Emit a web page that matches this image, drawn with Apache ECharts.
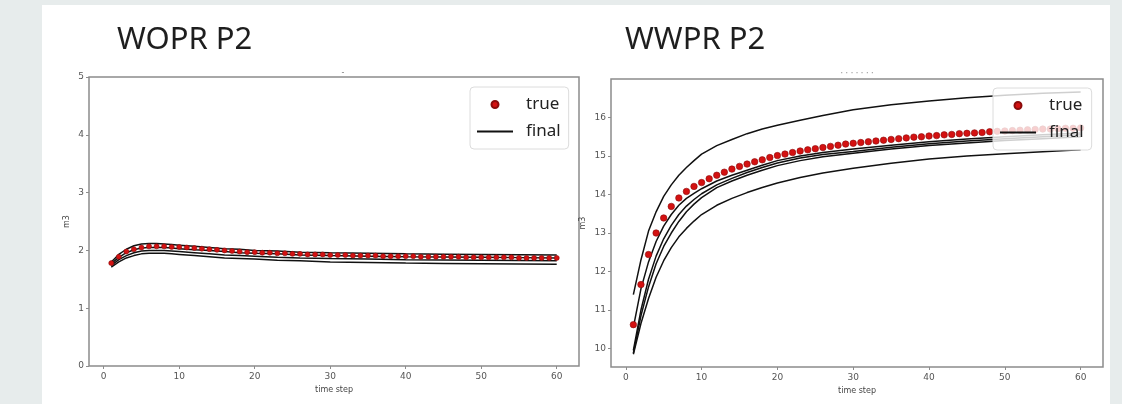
<!DOCTYPE html>
<html>
<head>
<meta charset="utf-8">
<script src="https://cdn.jsdelivr.net/npm/echarts@6/dist/echarts.min.js"></script>
<style>
  html, body { margin: 0; padding: 0; background: #e7ecec; }
  #chart { width: 1122px; height: 404px; }
</style>
</head>
<body>
<div id="chart"></div>
<script>
// time steps of the "true" dots
const steps = [1, 2, 3, 4, 5, 6, 7, 8, 9, 10, 11, 12, 13, 14, 15, 16, 17, 18, 19, 20,
  21, 22, 23, 24, 25, 26, 27, 28, 29, 30, 31, 32, 33, 34, 35, 36, 37, 38, 39, 40,
  41, 42, 43, 44, 45, 46, 47, 48, 49, 50, 51, 52, 53, 54, 55, 56, 57, 58, 59, 60]
const lineSteps = [1, 2, 3, 4, 5, 6, 7, 8, 9, 10, 12, 14, 16, 18, 20, 23, 26, 30, 35, 40, 45, 50, 55, 60]
const xTicks = [0, 10, 20, 30, 40, 50, 60]

// WOPR P2
const woprTrue = [1.78, 1.89, 1.98, 2.02, 2.05, 2.07, 2.07, 2.07, 2.06, 2.06,
  2.05, 2.04, 2.03, 2.02, 2.01, 2.00, 1.99, 1.98, 1.97, 1.97,
  1.96, 1.96, 1.95, 1.95, 1.94, 1.94, 1.93, 1.93, 1.93, 1.92,
  1.92, 1.92, 1.91, 1.91, 1.91, 1.91, 1.90, 1.90, 1.90, 1.90,
  1.90, 1.89, 1.89, 1.89, 1.89, 1.89, 1.89, 1.88, 1.88, 1.88,
  1.88, 1.88, 1.88, 1.88, 1.87, 1.87, 1.87, 1.87, 1.87, 1.87]
const woprFinal1 = [1.80, 1.93, 2.02, 2.08, 2.11, 2.12, 2.12, 2.11, 2.10, 2.09, 2.07, 2.05, 2.03, 2.02, 2.00, 1.99, 1.97, 1.96, 1.95, 1.94, 1.935, 1.93, 1.925, 1.92]
const woprFinal2 = [1.77, 1.88, 1.96, 2.01, 2.04, 2.05, 2.05, 2.05, 2.04, 2.03, 2.01, 2.00, 1.98, 1.96, 1.95, 1.94, 1.92, 1.91, 1.90, 1.89, 1.885, 1.88, 1.875, 1.87]
const woprFinal3 = [1.74, 1.84, 1.91, 1.96, 1.99, 2.00, 2.00, 2.00, 1.99, 1.98, 1.96, 1.94, 1.92, 1.91, 1.90, 1.88, 1.87, 1.86, 1.85, 1.84, 1.835, 1.83, 1.825, 1.82]
const woprFinal4 = [1.71, 1.80, 1.87, 1.91, 1.94, 1.95, 1.95, 1.95, 1.94, 1.93, 1.91, 1.89, 1.87, 1.86, 1.85, 1.83, 1.82, 1.80, 1.79, 1.78, 1.775, 1.77, 1.765, 1.76]
const woprYTicks = [0, 1, 2, 3, 4, 5]

// WWPR P2
const wwprTrue = [10.62, 11.66, 12.44, 13.00, 13.39, 13.69, 13.91, 14.08, 14.21, 14.31,
  14.41, 14.50, 14.58, 14.66, 14.73, 14.79, 14.85, 14.90, 14.96, 15.01,
  15.05, 15.09, 15.13, 15.16, 15.19, 15.22, 15.25, 15.28, 15.31, 15.33,
  15.35, 15.37, 15.39, 15.41, 15.43, 15.45, 15.47, 15.49, 15.50, 15.52,
  15.53, 15.55, 15.56, 15.58, 15.59, 15.60, 15.61, 15.63, 15.64, 15.65,
  15.66, 15.67, 15.68, 15.69, 15.70, 15.70, 15.71, 15.72, 15.72, 15.73]
const wwprFinal1 = [11.40, 12.30, 13.05, 13.55, 13.95, 14.25, 14.50, 14.70, 14.88, 15.05, 15.27, 15.43, 15.58, 15.70, 15.80, 15.93, 16.05, 16.20, 16.33, 16.43, 16.51, 16.58, 16.63, 16.66]
const wwprFinal2 = [10.55, 11.55, 12.25, 12.78, 13.18, 13.48, 13.72, 13.90, 14.03, 14.15, 14.35, 14.50, 14.63, 14.76, 14.88, 15.00, 15.09, 15.18, 15.28, 15.37, 15.44, 15.50, 15.55, 15.60]
const wwprFinal3 = [9.95, 11.00, 11.80, 12.40, 12.85, 13.20, 13.48, 13.70, 13.87, 14.02, 14.25, 14.42, 14.57, 14.70, 14.82, 14.95, 15.04, 15.12, 15.23, 15.32, 15.39, 15.45, 15.50, 15.55]
const wwprFinal4 = [9.88, 10.85, 11.60, 12.20, 12.65, 13.00, 13.30, 13.55, 13.75, 13.92, 14.18, 14.35, 14.50, 14.63, 14.75, 14.88, 14.98, 15.07, 15.18, 15.27, 15.34, 15.40, 15.45, 15.50]
const wwprFinal5 = [9.85, 10.65, 11.30, 11.85, 12.28, 12.62, 12.90, 13.12, 13.31, 13.48, 13.72, 13.90, 14.05, 14.18, 14.30, 14.44, 14.56, 14.68, 14.81, 14.92, 15.00, 15.06, 15.11, 15.16]
const wwprYTicks = [10, 11, 12, 13, 14, 15, 16]

const pairs = (xs, ys) => xs.map((x, i) => [x, ys[i]])

const chart = echarts.init(document.getElementById('chart'))

const axisGray = '#8c8c8c'
const labelStyle = { color: '#555', fontSize: 9, fontFamily: 'DejaVu Sans' }

function xAxisFor (gridIndex) {
  return {
    type: 'value',
    gridIndex: gridIndex,
    min: -1.95,
    max: 62.95,
    name: 'time step',
    nameLocation: 'middle',
    nameGap: 17,
    nameTextStyle: { color: '#444', fontSize: 8, fontFamily: 'DejaVu Sans' },
    axisLine: { show: false, onZero: false },
    axisTick: { show: true, inside: false, length: 3, customValues: xTicks, lineStyle: { color: axisGray } },
    axisLabel: Object.assign({ customValues: xTicks, margin: 6 }, labelStyle),
    splitLine: { show: false }
  }
}

function yAxisFor (gridIndex, min, max, ticks, gap) {
  return {
    type: 'value',
    gridIndex: gridIndex,
    min: min,
    max: max,
    name: 'm3',
    nameLocation: 'middle',
    nameRotate: 90,
    nameGap: gap,
    nameTextStyle: { color: '#444', fontSize: 8, fontFamily: 'DejaVu Sans' },
    axisLine: { show: false, onZero: false },
    axisTick: { show: true, inside: false, length: 3, customValues: ticks, lineStyle: { color: axisGray } },
    axisLabel: Object.assign({ customValues: ticks, margin: 5 }, labelStyle),
    splitLine: { show: false }
  }
}

function finalLine (idx, xs, ys) {
  return {
    name: 'final',
    type: 'line',
    xAxisIndex: idx,
    yAxisIndex: idx,
    symbol: 'none',
    smooth: false,
    color: '#111',
    lineStyle: { color: '#111', width: 1.5 },
    data: pairs(xs, ys),
    z: 2
  }
}

function trueDots (idx, ys, size) {
  return {
    name: 'true',
    type: 'scatter',
    xAxisIndex: idx,
    yAxisIndex: idx,
    symbol: 'circle',
    symbolSize: size,
    color: '#d41111',
    itemStyle: { color: '#d41111', borderColor: '#8a0b0b', borderWidth: 0.6, opacity: 1 },
    data: pairs(steps, ys),
    z: 3
  }
}

function legendAt (left, top) {
  return {
    orient: 'vertical',
    left: left,
    top: top,
    padding: [9, 8, 9, 6],
    itemWidth: 36,
    itemHeight: 7,
    itemGap: 10,
    backgroundColor: 'rgba(255,255,255,0.8)',
    borderColor: '#dcdcdc',
    borderWidth: 1,
    borderRadius: 4,
    textStyle: { color: '#222', fontSize: 17, fontFamily: 'Noto Sans', padding: [0, 0, 0, 8], lineHeight: 17 },
    selectedMode: false,
    data: [
      { name: 'true', icon: 'circle' },
      { name: 'final', itemStyle: { opacity: 0 } }
    ]
  }
}

const option = {
  backgroundColor: '#e7ecec',
  animation: false,
  graphic: [
    { type: 'rect', shape: { x: 42, y: 5, width: 1068, height: 399 }, style: { fill: '#ffffff' }, z: -10 },
    { type: 'text', x: 117, y: 40, style: { text: 'WOPR P2', font: '31px "Noto Sans"', fill: '#1e1e1e', verticalAlign: 'middle' } },
    { type: 'text', x: 625, y: 40, style: { text: 'WWPR P2', font: '31px "Noto Sans"', fill: '#1e1e1e', verticalAlign: 'middle' } },
    { type: 'text', x: 343, y: 73, style: { text: '-', font: '8px "DejaVu Sans"', fill: '#777', align: 'center', verticalAlign: 'middle' } },
    { type: 'text', x: 857, y: 74, style: { text: '· · · · · · ·', font: '8px "DejaVu Sans"', fill: '#888', align: 'center', verticalAlign: 'middle' } }
  ],
  grid: [
    { left: 89, top: 77, width: 490, height: 289, show: true, borderColor: axisGray, borderWidth: 1.5, backgroundColor: '#fff' },
    { left: 611, top: 79, width: 492, height: 288, show: true, borderColor: axisGray, borderWidth: 1.5, backgroundColor: '#fff' }
  ],
  legend: [legendAt(470, 87), legendAt(993, 88)],
  xAxis: [xAxisFor(0), xAxisFor(1)],
  yAxis: [
    yAxisFor(0, 0, 5, woprYTicks, 18),
    yAxisFor(1, 9.52, 17.0, wwprYTicks, 24)
  ],
  series: [
    finalLine(0, lineSteps, woprFinal1),
    finalLine(0, lineSteps, woprFinal2),
    finalLine(0, lineSteps, woprFinal3),
    finalLine(0, lineSteps, woprFinal4),
    trueDots(0, woprTrue, 5),
    finalLine(1, lineSteps, wwprFinal1),
    finalLine(1, lineSteps, wwprFinal2),
    finalLine(1, lineSteps, wwprFinal3),
    finalLine(1, lineSteps, wwprFinal4),
    finalLine(1, lineSteps, wwprFinal5),
    trueDots(1, wwprTrue, 6.5)
  ]
}

chart.setOption(option)
window.addEventListener('resize', function () {
  chart.resize()
})
</script>
</body>
</html>
